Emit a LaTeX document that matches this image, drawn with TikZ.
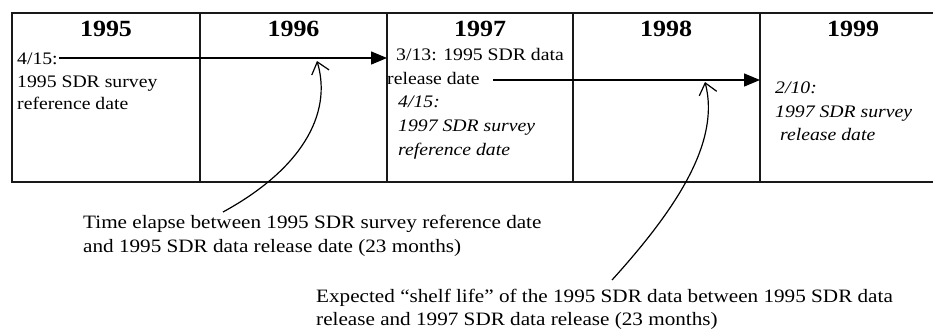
\documentclass[tikz,border=0pt]{standalone}
\usepackage{fontspec}
\setmainfont[FakeStretch=1.12]{Liberation Serif}
\usetikzlibrary{arrows.meta}
\newcommand\tblock[2]{\parbox[t]{#1}{\raggedright #2}}
\begin{document}
\begin{tikzpicture}[x=1pt,y=-1pt,
  yr/.style={font=\fontsize{23.2}{27}\selectfont\bfseries, inner sep=0pt, anchor=base},
  blk/.style={inner sep=0pt, anchor=base west},
  note/.style={inner sep=0pt, anchor=base west},
  frame/.style={line width=1.6pt, draw=black!90},
  timearrow/.style={line width=1.4pt, -{Triangle[length=16pt,width=13pt]}},
  pointer/.style={line width=1.2pt, -{Straight Barb[length=11pt,width=18pt]}}]
\useasboundingbox[fill=white] (0,0) rectangle (933,335);
% frame
\draw[frame] (945,13) -- (12,13) -- (12,182) -- (945,182);
\coordinate (d1t) at (200,13); \coordinate (d1b) at (200,182);
\coordinate (d2t) at (387,13); \coordinate (d2b) at (387,182);
\coordinate (d3t) at (573,13); \coordinate (d3b) at (573,182);
\coordinate (d4t) at (760,13); \coordinate (d4b) at (760,182);
\draw[frame] (d1t) -- (d1b);
\draw[frame] (d2t) -- (d2b);
\draw[frame] (d3t) -- (d3b);
\draw[frame] (d4t) -- (d4b);
% years
\node[yr] (y95) at (106,36) {1995};
\node[yr] (y96) at (293.5,36) {1996};
\node[yr] (y97) at (480,36) {1997};
\node[yr] (y98) at (666,36) {1998};
\node[yr] (y99) at (853,36) {1999};
% column texts
\node[blk] (c95) at (17,64.5) {\fontsize{17.6}{22.5}\selectfont\tblock{180pt}{4/15:\\1995 SDR survey\\reference date}};
\node[blk] (c97) at (387,60.5) {\fontsize{17.6}{23.7}\selectfont\tblock{185pt}{\hspace*{9pt}3/13: 1995 SDR data\\release date\\\hspace*{11pt}\textit{4/15:}\\\hspace*{11pt}\textit{1997 SDR survey}\\\hspace*{11pt}\textit{reference date}}};
\node[blk] (c99) at (775,93.5) {\fontsize{17.6}{23.5}\selectfont\itshape\tblock{170pt}{2/10:\\1997 SDR survey\\\hspace*{5pt}release date}};
% time arrows
\coordinate (a1s) at (59,58);
\coordinate (a1e) at (387,58);
\draw[timearrow] (a1s) -- (a1e);
\coordinate (a2s) at (493,80);
\coordinate (a2e) at (760,80);
\draw[timearrow] (a2s) -- (a2e);
% notes
\node[note] (n1) at (83,228.7) {\fontsize{18.9}{24}\selectfont\tblock{500pt}{Time elapse between 1995 SDR survey reference date\\and 1995 SDR data release date (23 months)}};
\node[note] (n2) at (316,302.7) {\fontsize{18.9}{23}\selectfont\tblock{620pt}{Expected “shelf life” of the 1995 SDR data between 1995 SDR data\\release and 1997 SDR data release (23 months)}};
% pointers
\coordinate (p1s) at (223,212);
\coordinate (p1e) at (317,61);
\draw[pointer] (p1s) .. controls (300,170) and (333,115) .. (p1e);
\coordinate (p2s) at (612,280);
\coordinate (p2e) at (705,82);
\draw[pointer] (p2s) .. controls (680,205) and (720,140) .. (p2e);
\end{tikzpicture}
\end{document}
